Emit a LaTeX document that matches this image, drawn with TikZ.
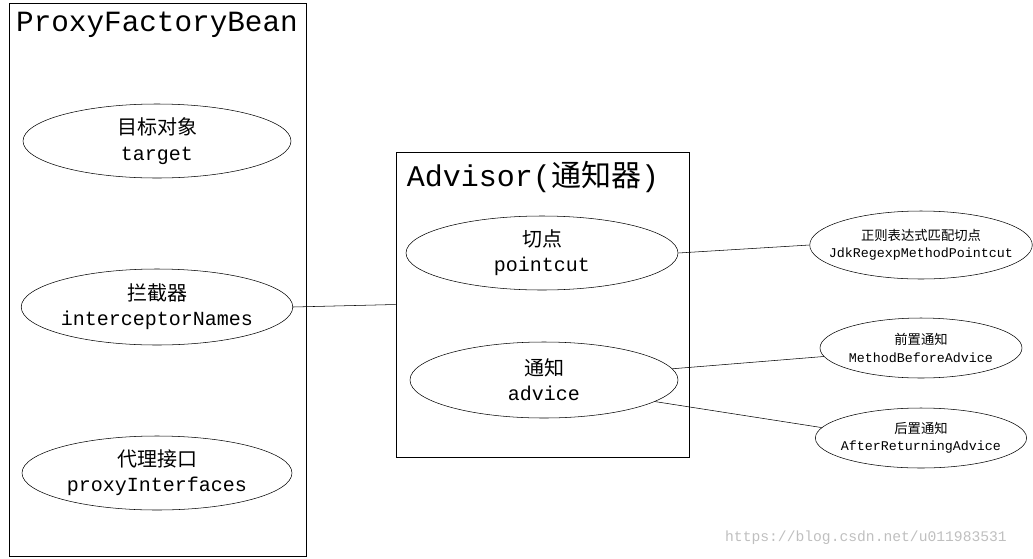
\documentclass[tikz,border=0pt]{standalone}
\usepackage{fontspec}
\setmainfont{Liberation Mono}
\newfontfamily\cjk{Noto Sans CJK SC}
\usetikzlibrary{shapes.geometric}
\tikzset{
  bigell/.style={ellipse, draw, inner sep=0pt, align=center, font=\fontsize{15}{19}\selectfont},
  smallell/.style={ellipse, draw, inner sep=0pt, align=center, font=\fontsize{10}{13}\selectfont},
}
\begin{document}
\begin{tikzpicture}[x=0.75pt,y=-0.75pt]
\useasboundingbox (0,0) rectangle (1033,558);

% ProxyFactoryBean
\draw (9,3) rectangle (306,556);
\node[font=\fontsize{22}{26}\selectfont] (pfb) at (157,25) {ProxyFactoryBean};
\node[bigell, minimum width=268*0.75pt, minimum height=74*0.75pt] (target) at (157,141) {{\cjk 目标对象}\\target};
\node[bigell, minimum width=270*0.75pt, minimum height=76*0.75pt] (inter) at (157,307) {{\cjk 拦截器}\\interceptorNames};
\node[bigell, minimum width=270*0.75pt, minimum height=74*0.75pt] (proxy) at (157,473) {{\cjk 代理接口}\\proxyInterfaces};

% Advisor
\node[draw, minimum width=293*0.75pt, minimum height=305*0.75pt, inner sep=0pt] (advisor) at (542.5,304.5) {};
\node[font=\fontsize{22.5}{26}\selectfont] (advtitle) at (533,177) {Advisor({\cjk 通知器})};
\node[bigell, minimum width=272*0.75pt, minimum height=74*0.75pt] (pointcut) at (542,253) {{\cjk 切点}\\pointcut};
\node[bigell, minimum width=268*0.75pt, minimum height=76*0.75pt] (advice) at (544,380) {{\cjk 通知}\\advice};

% rechts
\node[smallell, inner xsep=-10pt, minimum width=220*0.75pt, minimum height=68*0.75pt] (jdk) at (921,245) {{\cjk 正则表达式匹配切点}\\JdkRegexpMethodPointcut};
\node[smallell, inner xsep=-4pt, minimum width=202*0.75pt, minimum height=60*0.75pt] (before) at (921,348) {{\cjk 前置通知}\\MethodBeforeAdvice};
\node[smallell, inner xsep=-4pt, minimum width=202*0.75pt, minimum height=60*0.75pt] (after) at (921,438) {{\cjk 后置通知}\\AfterReturningAdvice};

\draw (inter.east) -- (advisor.west);
\draw (pointcut.east) -- (jdk.west);
\draw (advice.5) -- (before.185);
\draw (advice.349) -- (after.174);

\node[text=black!25, font=\fontsize{11}{13}\selectfont] (mark) at (866,538) {https://blog.csdn.net/u011983531};
\end{tikzpicture}
\end{document}
